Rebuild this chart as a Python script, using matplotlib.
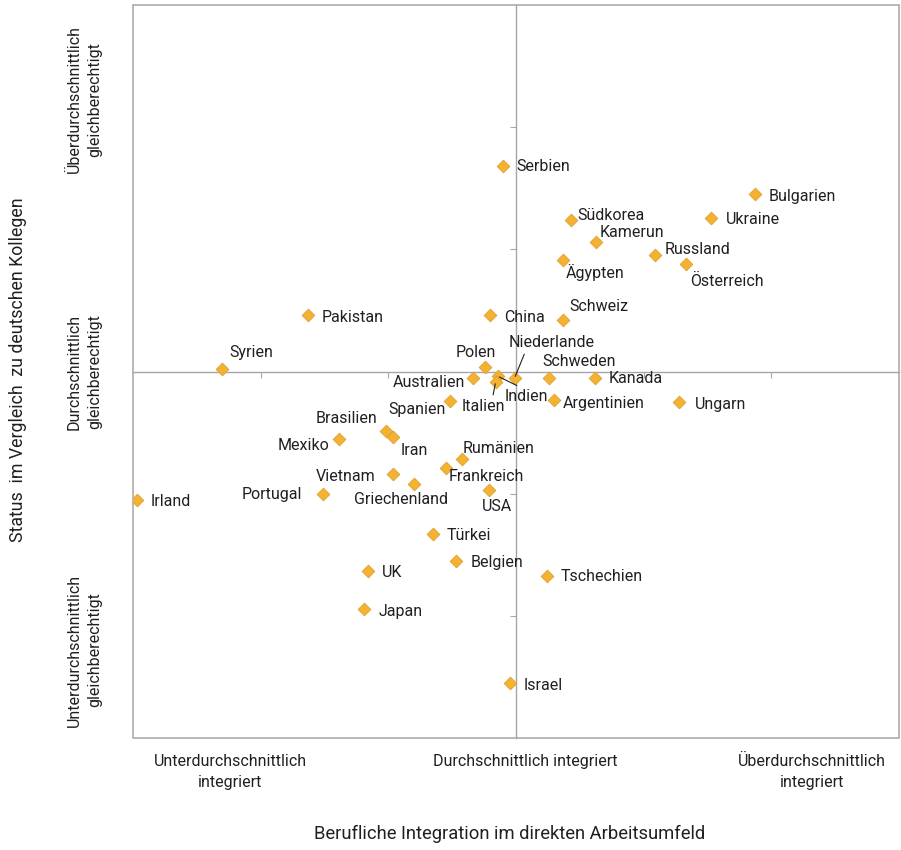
import matplotlib.pyplot as plt
from matplotlib.patches import Rectangle

plt.rcParams["font.family"] = ["Liberation Sans Narrow", "Roboto", "DejaVu Sans"]

# Länder mit ihrer Position (Integration, Status), Skala -3 .. 3
countries = [
    "Serbien", "Bulgarien", "Südkorea", "Ukraine", "Kamerun", "Russland",
    "Ägypten", "Österreich", "Schweiz", "Pakistan", "China", "Syrien",
    "Polen", "Niederlande", "Schweden", "Kanada", "Australien", "Indien",
    "Italien", "Argentinien", "Ungarn", "Spanien", "Brasilien", "Iran",
    "Mexiko", "Rumänien", "Frankreich", "Vietnam", "Griechenland", "USA",
    "Portugal", "Irland", "Türkei", "Belgien", "UK", "Tschechien", "Japan",
    "Israel",
]
integration = [
    -0.10, 1.87, 0.43, 1.53, 0.63, 1.09,
    0.37, 1.33, 0.37, -1.63, -0.20, -2.30,
    -0.24, -0.01, 0.26, 0.62, -0.34, -0.14,
    -0.16, 0.30, 1.28, -0.52, -1.02, -0.96,
    -1.39, -0.42, -0.55, -0.96, -0.80, -0.21,
    -1.51, -2.97, -0.65, -0.47, -1.16, 0.24, -1.19,
    -0.05,
]
status = [
    1.68, 1.45, 1.24, 1.26, 1.06, 0.95,
    0.91, 0.88, 0.42, 0.46, 0.46, 0.02,
    0.04, -0.05, -0.05, -0.05, -0.05, -0.04,
    -0.09, -0.23, -0.25, -0.24, -0.49, -0.54,
    -0.55, -0.72, -0.79, -0.84, -0.92, -0.97,
    -1.00, -1.05, -1.33, -1.55, -1.63, -1.67, -1.94,
    -2.55,
]

x_labels = ["Unterdurchschnittlich\nintegriert", "Durchschnittlich integriert",
            "Überdurchschnittlich\nintegriert"]
y_labels = ["Unterdurchschnittlich\ngleichberechtigt", "Durchschnittlich\ngleichberechtigt",
            "Überdurchschnittlich\ngleichberechtigt"]

# Beschriftungs-Versatz in Pixeln (dx, dy nach oben), Ausrichtung
LABEL_POS = {
    "Serbien": (13, 0, "left"), "Bulgarien": (14, -2, "left"),
    "Südkorea": (6, 5, "left"), "Ukraine": (15, -2, "left"),
    "Kamerun": (3, 10, "left"), "Russland": (9, 6, "left"),
    "Ägypten": (3, -12, "left"), "Österreich": (4, -17, "left"),
    "Schweiz": (6, 14, "left"), "Pakistan": (14, -2, "left"),
    "China": (14, -2, "left"), "Syrien": (7, 17, "left"),
    "Polen": (11, 14, "right"), "Niederlande": (-6, 35, "left"),
    "Schweden": (-7, 16, "left"), "Kanada": (13, -1, "left"),
    "Australien": (-7, -5, "right"), "Indien": (6, -20, "left"),
    "Italien": (-12, -24, "center"), "Argentinien": (8, -4, "left"),
    "Ungarn": (15, -2, "left"), "Spanien": (-4, -9, "right"),
    "Brasilien": (-8, 13, "right"), "Iran": (7, -13, "left"),
    "Mexiko": (-9, -7, "right"), "Rumänien": (0, 11, "left"),
    "Frankreich": (3, -8, "left"), "Vietnam": (-18, -2, "right"),
    "Griechenland": (-13, -16, "center"), "USA": (8, -16, "center"),
    "Portugal": (-21, -1, "right"), "Irland": (14, -2, "left"),
    "Türkei": (14, -2, "left"), "Belgien": (15, -2, "left"),
    "UK": (14, -2, "left"), "Tschechien": (14, -1, "left"),
    "Japan": (15, -3, "left"), "Israel": (14, -2, "left"),
}
# Hinweislinien: Ansatzpunkt am Textkasten (relpos)
LEADERS = {"Niederlande": (0.2, 0.0), "Indien": (0.45, 1.0), "Italien": (0.7, 1.0)}

TEXT_COLOR = "#231f20"
LINE_COLOR = "#a6a6a6"


def main() -> None:
    fig = plt.figure(figsize=(9.01, 8.5), dpi=100)
    ax = fig.add_axes([133 / 901, 1 - 738 / 850, 766 / 901, 733 / 850])
    ax.set_xlim(-3, 3)
    ax.set_ylim(-3, 3)

    # Kreuz in der Mitte mit kleinen Teilstrichen
    for side in ["top", "right"]:
        ax.spines[side].set_visible(False)
    ax.spines["left"].set_position(("data", 0))
    ax.spines["bottom"].set_position(("data", 0))
    for side in ["left", "bottom"]:
        ax.spines[side].set_color(LINE_COLOR)
        ax.spines[side].set_linewidth(1)
    ax.set_xticks([-2, -1, 1, 2])
    ax.set_yticks([-2, -1, 1, 2])
    ax.tick_params(direction="out", length=4, color=LINE_COLOR,
                   labelleft=False, labelbottom=False)
    ax.add_patch(Rectangle((0, 0), 1, 1, transform=ax.transAxes, fill=False,
                           edgecolor=LINE_COLOR, linewidth=1.1, clip_on=False))

    ax.scatter(integration, status, marker="D", s=42, color="#f4b232",
               edgecolors="#e0a030", linewidths=0.6, zorder=3)

    for name, x, y in zip(countries, integration, status):
        dx, dy, ha = LABEL_POS[name]
        props = None
        if name in LEADERS:
            props = dict(arrowstyle="-", color=TEXT_COLOR, lw=0.8,
                         shrinkA=1, shrinkB=1, relpos=LEADERS[name])
        ax.annotate(name, (x, y), xytext=(dx, dy), textcoords="offset pixels",
                    ha=ha, va="center", fontsize=11.5, color=TEXT_COLOR,
                    arrowprops=props)

    xa = ax.get_xaxis_transform()
    for xpos, text in zip([-2.24, 0.07, 2.32], x_labels):
        ax.text(xpos, -0.022, text, transform=xa, ha="center", va="top",
                fontsize=11.5, color=TEXT_COLOR, linespacing=1.45)
    ya = ax.get_yaxis_transform()
    for ypos, text in zip([-2.28, 0.0, 2.23], y_labels):
        ax.text(-0.04, ypos, text, transform=ya, ha="right", va="center",
                rotation=90, fontsize=11.5, color=TEXT_COLOR, linespacing=1.45,
                multialignment="center")

    fig.text(510 / 901, 1 - 834 / 850, "Berufliche Integration im direkten Arbeitsumfeld",
             ha="center", va="center", fontsize=13.2, color=TEXT_COLOR)
    fig.text(18 / 901, 1 - 370 / 850, "Status  im Vergleich  zu deutschen Kollegen",
             ha="center", va="center", rotation=90, fontsize=12.8, color=TEXT_COLOR)

    fig.savefig("out.png", dpi=100)
    plt.close(fig)


if __name__ == "__main__":
    main()
